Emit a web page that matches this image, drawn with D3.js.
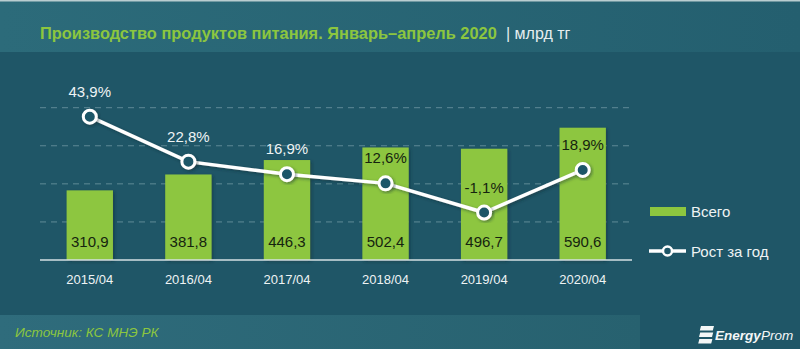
<!DOCTYPE html>
<html>
<head>
<meta charset="utf-8">
<script src="https://cdn.jsdelivr.net/npm/d3@7"></script>
<style>
  html, body { margin: 0; padding: 0; background: #1f5667; }
  svg { display: block; }
</style>
</head>
<body>
<svg id="chart" width="800" height="349"></svg>
<script>
// Food production, January–April, bln tenge, with year-over-year growth
const periods = ["2015/04", "2016/04", "2017/04", "2018/04", "2019/04", "2020/04"];
const totals = [310.9, 381.8, 446.3, 502.4, 496.7, 590.6];
const growth = [43.9, 22.8, 16.9, 12.6, -1.1, 18.9];
const gridTicks = [170, 340, 510, 680];

const fmt = v => String(v.toFixed(1)).replace(".", ",");

const W = 800, H = 349;
const svg = d3.select("#chart");
const defs = svg.append("defs");

const hdrGrad = defs.append("linearGradient").attr("id", "hdr");
hdrGrad.append("stop").attr("offset", "0%").attr("stop-color", "#2c6b7a");
hdrGrad.append("stop").attr("offset", "100%").attr("stop-color", "#245f6f");

const ftrGrad = defs.append("linearGradient").attr("id", "ftr");
ftrGrad.append("stop").attr("offset", "0%").attr("stop-color", "#2f6c7c");
ftrGrad.append("stop").attr("offset", "100%").attr("stop-color", "#27616f");

const shadow = defs.append("filter").attr("id", "shadow")
  .attr("x", "-30%").attr("y", "-30%").attr("width", "160%").attr("height", "160%");
shadow.append("feDropShadow").attr("dx", 1.5).attr("dy", 1.5).attr("stdDeviation", 1.5)
  .attr("flood-color", "#0a2630").attr("flood-opacity", 0.5);

// Background panels
svg.append("rect").attr("width", W).attr("height", H).attr("fill", "#1f5667");
svg.append("rect").attr("x", 0).attr("y", 0).attr("width", W).attr("height", 52).attr("fill", "url(#hdr)");
svg.append("rect").attr("x", 0).attr("y", 0).attr("width", W).attr("height", 1.5).attr("fill", "#b9cdd0");
svg.append("rect").attr("x", 0).attr("y", 315).attr("width", 640).attr("height", 34).attr("fill", "url(#ftr)");

// Title
svg.append("text").attr("x", 40).attr("y", 39)
  .attr("font-family", "'Liberation Sans', sans-serif")
  .attr("font-size", 16.4).attr("font-weight", "bold").attr("fill", "#8cc63f")
  .text("Производство продуктов питания. Январь–апрель 2020");
svg.append("text").attr("x", 506).attr("y", 39)
  .attr("font-family", "'Liberation Sans', sans-serif")
  .attr("font-size", 16).attr("fill", "#e6eef0")
  .text("| млрд тг");

// Scales
const x = d3.scaleBand().domain(periods).range([40.5, 632]).paddingInner(0.53).paddingOuter(0.265);
const yBar = d3.scaleLinear().domain([0, 680]).range([260, 107.7]);
const yPct = d3.scaleLinear().domain([-10, 50]).range([231.5, 103.7]);

// Gridlines
svg.append("g").selectAll("line").data(gridTicks).join("line")
  .attr("x1", 40).attr("x2", 632)
  .attr("y1", d => yBar(d)).attr("y2", d => yBar(d))
  .attr("stroke", "#6f97a3").attr("stroke-width", 1).attr("stroke-dasharray", "6,5").attr("opacity", 0.8);

// Bars
const data = periods.map((p, i) => ({ p, total: totals[i], g: growth[i] }));
svg.append("g").selectAll("rect").data(data).join("rect")
  .attr("x", d => x(d.p)).attr("width", x.bandwidth())
  .attr("y", d => yBar(d.total)).attr("height", d => yBar(0) - yBar(d.total))
  .attr("fill", "#8dc63f").attr("filter", "url(#shadow)");

// Axis
const xAxis = svg.append("g").attr("transform", `translate(0,${yBar(0)})`)
  .call(d3.axisBottom(x).tickSize(0).tickPadding(15));
xAxis.select(".domain").attr("stroke", "#d4e0e3").attr("stroke-width", 1.5)
  .attr("d", "M40,0H632");
xAxis.selectAll("text").attr("fill", "#eef3f4").attr("font-size", 13)
  .attr("font-family", "'Liberation Sans', sans-serif");

// Values inside bars
svg.append("g").selectAll("text").data(data).join("text")
  .attr("x", d => x(d.p) + x.bandwidth() / 2).attr("y", yBar(0) - 13)
  .attr("text-anchor", "middle").attr("font-size", 15)
  .attr("font-family", "'Liberation Sans', sans-serif")
  .attr("fill", "#15240f").text(d => fmt(d.total));

// Growth line
const cx = d => x(d.p) + x.bandwidth() / 2;
const line = d3.line().x(cx).y(d => yPct(d.g));
svg.append("path").datum(data).attr("d", line)
  .attr("fill", "none").attr("stroke", "#ffffff").attr("stroke-width", 3.5)
  .attr("filter", "url(#shadow)");
svg.append("g").selectAll("circle").data(data).join("circle")
  .attr("cx", cx).attr("cy", d => yPct(d.g)).attr("r", 6.5)
  .attr("fill", "#1f5667").attr("stroke", "#ffffff").attr("stroke-width", 3)
  .attr("filter", "url(#shadow)");

// Growth labels (dark when sitting on a bar)
svg.append("g").selectAll("text").data(data).join("text")
  .attr("x", cx).attr("y", d => yPct(d.g) - 20)
  .attr("text-anchor", "middle").attr("font-size", 15)
  .attr("font-family", "'Liberation Sans', sans-serif")
  .attr("fill", d => (yPct(d.g) - 32 > yBar(d.total)) ? "#15240f" : "#eef3f4")
  .text(d => fmt(d.g) + "%");

// Legend
const lg = svg.append("g").attr("font-family", "'Liberation Sans', sans-serif")
  .attr("font-size", 15).attr("fill", "#eef3f4");
lg.append("rect").attr("x", 650).attr("y", 207).attr("width", 36).attr("height", 9).attr("fill", "#8dc63f");
lg.append("text").attr("x", 691).attr("y", 217).text("Всего");
lg.append("line").attr("x1", 649).attr("x2", 686).attr("y1", 251).attr("y2", 251)
  .attr("stroke", "#ffffff").attr("stroke-width", 3.5);
lg.append("circle").attr("cx", 667.5).attr("cy", 251).attr("r", 4.5)
  .attr("fill", "#1f5667").attr("stroke", "#ffffff").attr("stroke-width", 2.5);
lg.append("text").attr("x", 691).attr("y", 256.5).text("Рост за год");

// Footer: source
svg.append("text").attr("x", 15).attr("y", 337)
  .attr("font-family", "'Liberation Sans', sans-serif")
  .attr("font-style", "italic").attr("font-size", 13.6).attr("fill", "#8cc63f")
  .text("Источник: КС МНЭ РК");

// Footer: logo
const logo = svg.append("g").attr("fill", "#f4f7f7");
[0, 1, 2].forEach(i => {
  logo.append("path").attr("d",
    `M${701 - i * 0.8},${326 + i * 6.5} l13,0 l-1.2,4.5 l-13,0 z`);
});
const logoFont = "'Liberation Sans', sans-serif";
svg.append("text").attr("x", 715).attr("y", 340)
  .attr("font-family", logoFont).attr("font-style", "italic").attr("font-weight", "bold")
  .attr("font-size", 13.5).attr("fill", "#f4f7f7").text("Energy");
svg.append("text").attr("x", 761).attr("y", 340)
  .attr("font-family", logoFont).attr("font-style", "italic")
  .attr("font-size", 13.5).attr("fill", "#f4f7f7").text("Prom");
</script>
</body>
</html>
